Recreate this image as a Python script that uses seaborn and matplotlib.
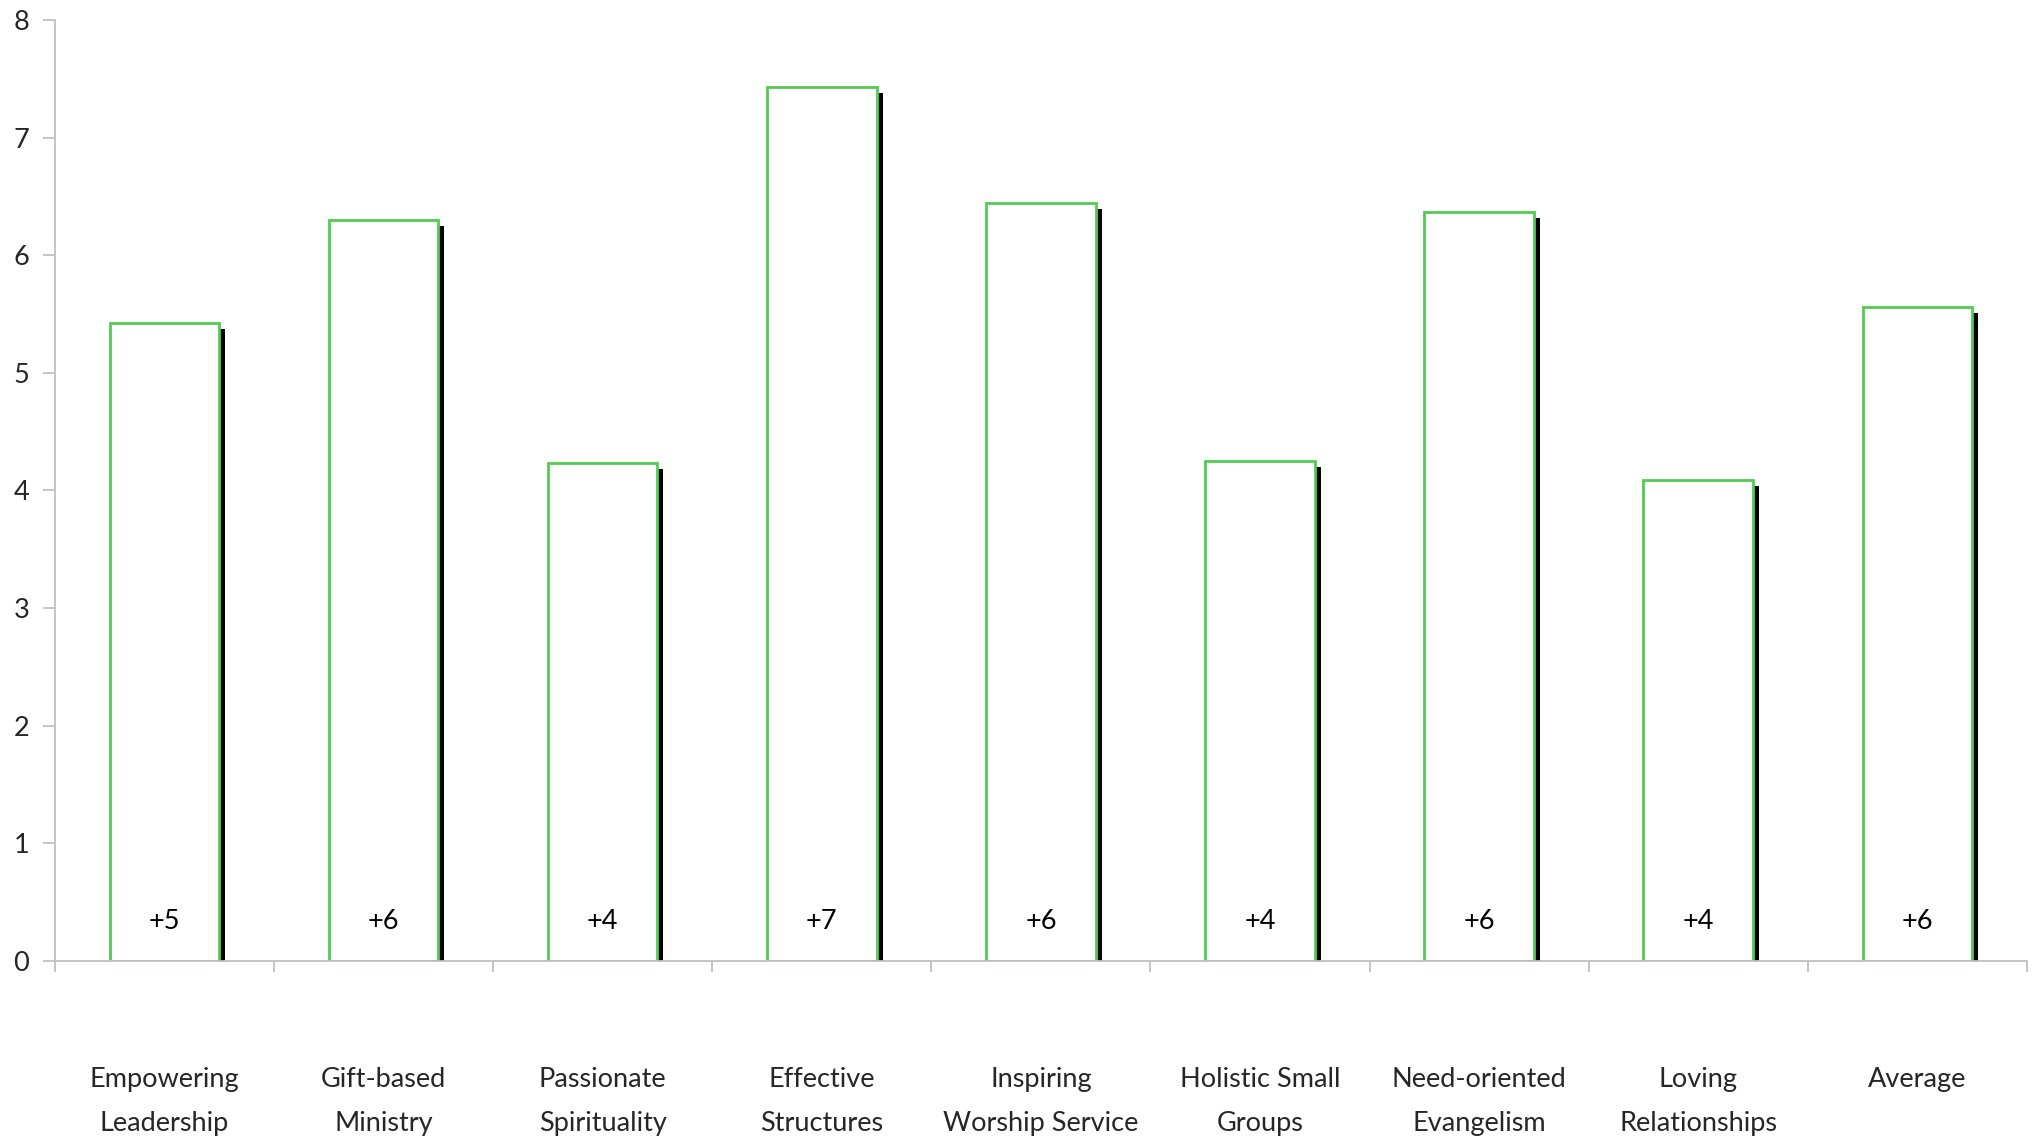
import pandas as pd
import matplotlib
matplotlib.use("Agg")
import matplotlib.pyplot as plt
import matplotlib.patheffects as pe
import seaborn as sns

# Data
categories = ["Empowering\nLeadership", "Gift-based\nMinistry", "Passionate\nSpirituality",
              "Effective\nStructures", "Inspiring\nWorship Service", "Holistic Small\nGroups",
              "Need-oriented\nEvangelism", "Loving\nRelationships", "Average"]
scores = [5.42, 6.30, 4.23, 7.43, 6.44, 4.25, 6.37, 4.09, 5.56]
bar_labels = ["+5", "+6", "+4", "+7", "+6", "+4", "+6", "+4", "+6"]

df = pd.DataFrame({"category": categories, "score": scores})

sns.set_style("white")
plt.rcParams["font.family"] = ["Lato", "DejaVu Sans"]

fig = plt.figure(figsize=(20.35, 11.4), dpi=100)
ax = fig.add_axes([0.027, 0.157, 0.969, 0.8255])

sns.barplot(data=df, x="category", y="score", width=0.5, color="white",
            edgecolor="#50cc50", linewidth=2.0, ax=ax)

# black drop shadow on each bar
for patch in ax.patches:
    patch.set_path_effects([pe.SimplePatchShadow(offset=(4.3, -4.3), shadow_rgbFace="black", alpha=1.0),
                            pe.Normal()])

# value labels inside the bars, near the bottom
for i, lab in enumerate(bar_labels):
    ax.text(i, 0.34, lab, ha="center", va="center", fontsize=19.5, color="black")

ax.set_xlim(-0.5, 8.5)
ax.set_ylim(0, 8)
ax.set_yticks(range(0, 9))
ax.set_xlabel("")
ax.set_ylabel("")

grey = "#bfbfbf"
for side in ["top", "right"]:
    ax.spines[side].set_visible(False)
for side in ["left", "bottom"]:
    ax.spines[side].set_color(grey)
    ax.spines[side].set_linewidth(1.3)

ax.tick_params(axis="y", length=8.5, width=1.3, color=grey, pad=10, labelsize=19.5, left=True)
# category labels at bar centres, separator ticks at category borders
ax.set_xticks(range(len(categories)))
ax.set_xticklabels(categories, linespacing=1.95)
ax.tick_params(axis="x", which="major", length=0, pad=76, labelsize=19.5)
ax.set_xticks([i - 0.5 for i in range(len(categories) + 1)], minor=True)
ax.tick_params(axis="x", which="minor", length=8, width=1.3, color=grey, bottom=True)

fig.savefig("out.png", dpi=100)
